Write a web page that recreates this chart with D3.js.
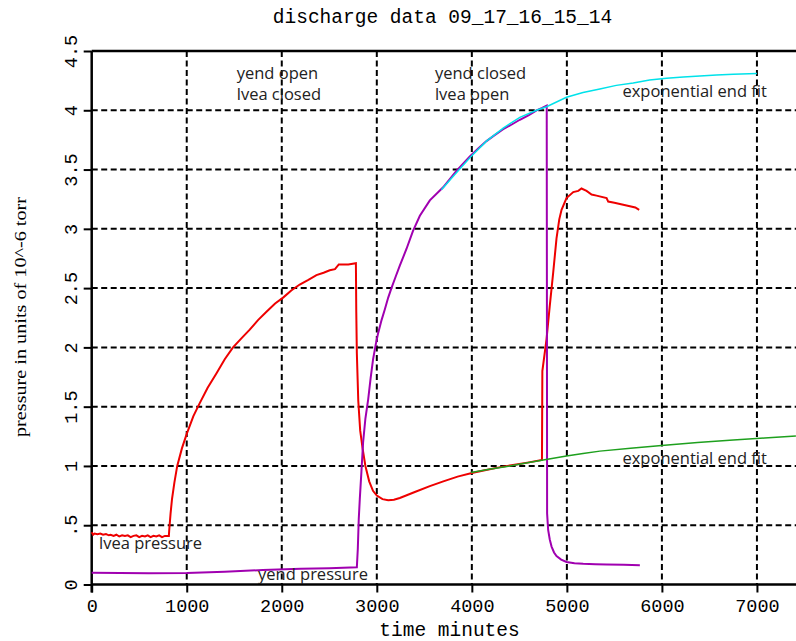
<!DOCTYPE html>
<html>
<head>
<meta charset="utf-8">
<script src="https://cdn.jsdelivr.net/npm/d3@7"></script>
<style>
  body { margin: 0; background: #fff; }
  .tick text { font-family: "Liberation Mono", monospace; font-size: 18.5px; fill: #000; }
  .note { font-family: "Open Sans", sans-serif; font-size: 16.5px; fill: #222; }
</style>
</head>
<body>
<div id="viz"></div>
<script>
// time in minutes, pressure in 1e-6 torr
var lveaPressure = [
  [0,0.44],[15,0.42],[30,0.43],[60,0.425],[90,0.43],[120,0.42],[150,0.425],[180,0.415],
  [200,0.42],[230,0.41],[260,0.42],[290,0.405],[320,0.415],[350,0.41],[380,0.415],[410,0.40],
  [440,0.41],[470,0.415],[500,0.40],[530,0.41],[560,0.405],[590,0.415],[620,0.40],[650,0.41],
  [680,0.405],[710,0.415],[740,0.40],[770,0.41],[812,0.41],
  [815,0.45],[830,0.6],[845,0.72],[870,0.86],[900,1.0],[950,1.15],[1000,1.27],[1070,1.42],
  [1137,1.53],[1220,1.66],[1312,1.78],[1400,1.9],[1487,2.0],[1580,2.08],[1663,2.15],[1750,2.23],
  [1839,2.3],[1930,2.37],[2014,2.42],[2100,2.48],[2189,2.53],[2280,2.57],[2365,2.61],[2440,2.63],
  [2505,2.65],[2560,2.66],[2600,2.7],[2700,2.7],[2780,2.71],
  [2784,2.3],[2790,1.95],[2805,1.55],[2825,1.3],[2850,1.15],[2880,1.0],[2920,0.87],[2960,0.79],
  [3000,0.75],[3060,0.72],[3120,0.71],[3180,0.715],[3242,0.73],[3400,0.78],[3558,0.83],
  [3700,0.87],[3850,0.91],[4000,0.94],[4150,0.965],[4300,0.99],[4450,1.01],[4600,1.03],[4738,1.05],
  [4742,1.8],[4786,2.07],[4820,2.35],[4856,2.63],[4891,2.92],[4920,3.08],[4944,3.16],[4996,3.26],
  [5067,3.31],[5120,3.32],[5154,3.34],[5207,3.32],[5260,3.29],[5312,3.28],[5418,3.26],[5435,3.23],
  [5500,3.22],[5558,3.21],[5663,3.19],[5720,3.18],[5761,3.16]
];

var yendPressure = [
  [0,0.10],[300,0.097],[600,0.095],[1000,0.097],[1400,0.108],[1800,0.122],[2200,0.132],
  [2500,0.138],[2790,0.145],[2800,0.3],[2810,0.55],[2821,0.72],[2838,0.95],[2856,1.2],[2880,1.4],
  [2909,1.56],[2935,1.74],[2961,1.9],[2990,2.03],[3014,2.12],[3050,2.23],[3084,2.32],[3120,2.42],
  [3154,2.5],[3200,2.6],[3242,2.69],[3312,2.83],[3380,2.98],[3453,3.11],[3558,3.24],[3698,3.35],
  [3840,3.49],[3979,3.61],[4070,3.68],[4154,3.74],[4240,3.79],[4330,3.84],[4420,3.88],[4505,3.92],
  [4600,3.96],[4681,4.0],[4740,4.02],[4788,4.04],[4792,0.6],[4803,0.46],[4820,0.38],[4839,0.32],
  [4865,0.27],[4891,0.24],[4940,0.21],[4996,0.19],[5080,0.18],[5172,0.175],[5300,0.171],
  [5418,0.169],[5600,0.166],[5768,0.163]
];

var yendFit = [
  [3680,3.33],[3800,3.44],[3979,3.6],[4154,3.74],[4330,3.85],[4505,3.94],[4681,4.0],[4786,4.03],
  [4996,4.11],[5170,4.15],[5347,4.18],[5520,4.21],[5698,4.23],[5870,4.255],[6049,4.27],
  [6225,4.28],[6400,4.29],[6575,4.297],[6751,4.303],[7000,4.31]
];

var lveaFit = [
  [3990,0.945],[4200,0.975],[4400,1.0],[4600,1.03],[4751,1.05],[4996,1.083],[5170,1.105],
  [5347,1.125],[5670,1.15],[5997,1.173],[6375,1.197],[6751,1.218],[7080,1.236],[7410,1.252]
];

var xTicks = [0, 1000, 2000, 3000, 4000, 5000, 6000, 7000];
var yTicks = [0, 0.5, 1, 1.5, 2, 2.5, 3, 3.5, 4, 4.5];
var yTickLabels = ["0", ".5", "1", "1.5", "2", "2.5", "3", "3.5", "4", "4.5"];

var notes = [
  {text: "yend open", t: 1526, p: 4.265},
  {text: "lvea closed", t: 1526, p: 4.087},
  {text: "yend closed", t: 3612, p: 4.265},
  {text: "lvea open", t: 3612, p: 4.087},
  {text: "exponential end fit", t: 5585, p: 4.115},
  {text: "exponential end fit", t: 5585, p: 1.014},
  {text: "lvea pressure", t: 77, p: 0.3},
  {text: "yend pressure", t: 1750, p: 0.038}
];

var width = 796,
    height = 641,
    margin = {top: 51, right: 0, bottom: 56.5, left: 91.7};

var svg = d3.select('#viz')
  .append("svg")
  .attr("width", width)
  .attr("height", height);

var xScale = d3.scaleLinear().domain([0, 7411]).range([margin.left, width - margin.right]);
var yScale = d3.scaleLinear().domain([0, 4.5]).range([height - margin.bottom, margin.top]);

var plotBottom = yScale(0), plotTop = yScale(4.5), plotLeft = xScale(0), plotRight = width;

// grid
svg.append("g").selectAll("line")
  .data(xTicks.slice(1))
  .enter().append("line")
  .attr("x1", d => xScale(d)).attr("x2", d => xScale(d))
  .attr("y1", plotTop).attr("y2", plotBottom)
  .attr("stroke", "#000").attr("stroke-width", 2).attr("stroke-dasharray", "6,3.5");

svg.append("g").selectAll("line")
  .data(yTicks.slice(1, -1))
  .enter().append("line")
  .attr("x1", plotLeft).attr("x2", plotRight)
  .attr("y1", d => yScale(d)).attr("y2", d => yScale(d))
  .attr("stroke", "#000").attr("stroke-width", 2).attr("stroke-dasharray", "6,3.5");

// axes
var xAxis = d3.axisBottom(xScale).tickValues(xTicks).tickSize(8).tickSizeOuter(0).tickFormat(d3.format("d"));
var yAxis = d3.axisLeft(yScale).tickValues(yTicks).tickSize(8).tickSizeOuter(0).tickFormat((d, i) => yTickLabels[i]);

var gx = svg.append("g")
  .attr("transform", `translate(0,${plotBottom})`)
  .call(xAxis);
gx.select(".domain").remove();
gx.selectAll(".tick line").attr("stroke-width", 2);
gx.selectAll(".tick text").attr("y", 14).attr("dy", "0.71em");

var gy = svg.append("g")
  .attr("transform", `translate(${plotLeft},0)`)
  .call(yAxis);
gy.select(".domain").remove();
gy.selectAll(".tick line").attr("stroke-width", 2);
gy.selectAll(".tick text")
  .attr("transform", "rotate(-90)")
  .attr("x", 0).attr("y", -15).attr("dy", 0)
  .attr("text-anchor", "middle");

// frame lines
svg.append("line").attr("x1", plotLeft).attr("x2", plotRight).attr("y1", plotTop).attr("y2", plotTop)
  .attr("stroke", "#000").attr("stroke-width", 2.5);
svg.append("line").attr("x1", plotLeft).attr("x2", plotRight).attr("y1", plotBottom).attr("y2", plotBottom)
  .attr("stroke", "#000").attr("stroke-width", 2.5);
svg.append("line").attr("x1", plotLeft).attr("x2", plotLeft).attr("y1", plotTop).attr("y2", plotBottom + 8)
  .attr("stroke", "#000").attr("stroke-width", 2.5);

// series
var line = d3.line().x(d => xScale(d[0])).y(d => yScale(d[1]));

svg.append("path").datum(lveaPressure)
  .attr("d", line).attr("fill", "none").attr("stroke", "#ee0000").attr("stroke-width", 2);
svg.append("path").datum(yendPressure)
  .attr("d", line).attr("fill", "none").attr("stroke", "#a000b0").attr("stroke-width", 2);
svg.append("path").datum(lveaFit)
  .attr("d", line).attr("fill", "none").attr("stroke", "#1ea01e").attr("stroke-width", 1.5);
svg.append("path").datum(yendFit)
  .attr("d", line).attr("fill", "none").attr("stroke", "#00e2ea").attr("stroke-width", 1.5);

// annotations
svg.append("g").selectAll("text")
  .data(notes)
  .enter().append("text")
  .attr("class", "note")
  .attr("x", d => xScale(d.t))
  .attr("y", d => yScale(d.p))
  .text(d => d.text);

// titles
svg.append("text")
  .attr("x", 442.5).attr("y", 23)
  .attr("text-anchor", "middle")
  .style("font-family", "Liberation Mono, monospace").style("font-size", "19.5px")
  .text("discharge data 09_17_16_15_14");

svg.append("text")
  .attr("x", 449.5).attr("y", 636)
  .attr("text-anchor", "middle")
  .style("font-family", "Liberation Mono, monospace").style("font-size", "19.5px")
  .text("time minutes");

svg.append("text")
  .attr("transform", "translate(26,317) rotate(-90)")
  .attr("text-anchor", "middle")
  .attr("textLength", 240).attr("lengthAdjust", "spacingAndGlyphs")
  .style("font-family", "Liberation Serif, serif").style("font-size", "17px")
  .text("pressure in units of 10^-6 torr");
</script>
</body>
</html>
